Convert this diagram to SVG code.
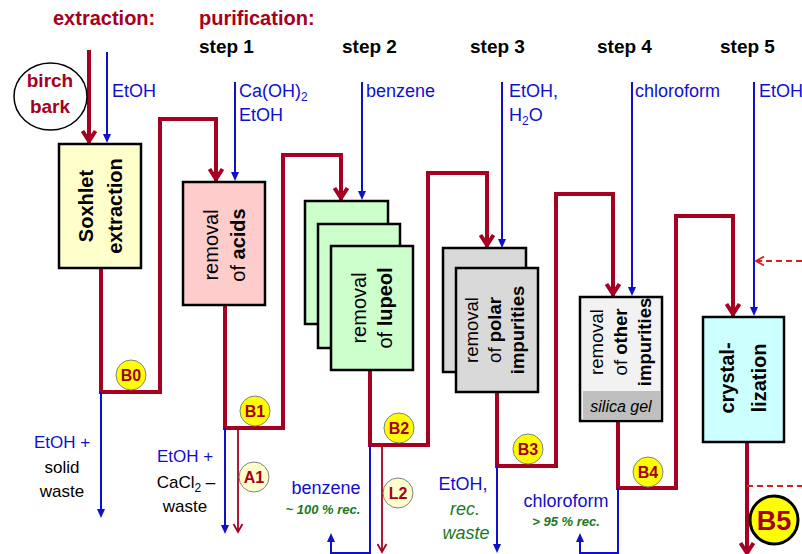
<svg xmlns="http://www.w3.org/2000/svg" width="802" height="554" viewBox="0 0 802 554">
<defs>
<style>
text{font-family:"Liberation Sans",Arial,sans-serif}
.hd{font-size:20px;font-weight:bold;fill:#a50021}
.st{font-size:19px;font-weight:bold;fill:#000}
.rg{font-size:18px;fill:#1010cc}
.lb{font-size:17px;fill:#1010cc}
.bk{font-size:17px;fill:#000}
.gi{font-size:18px;fill:#207820;font-style:italic}
.gb{font-size:13px;fill:#207820;font-style:italic;font-weight:bold}
.bt{font-size:20px;fill:#000}
.bs{font-size:18.5px;fill:#000}
.b{font-weight:bold}
.box{stroke:#000;stroke-width:2.5}
.red{fill:none;stroke:#a50021;stroke-width:4;stroke-linejoin:miter}
.blue{fill:none;stroke:#1010cc;stroke-width:2}
.tred{fill:none;stroke:#a50021;stroke-width:1.8}
.dash{fill:none;stroke:#d42020;stroke-width:1.8;stroke-dasharray:6 4}
.bdg{fill:#ffff00;stroke:#808080;stroke-width:1}
.bdl{fill:#ffffcc;stroke:#808080;stroke-width:1}
.bdt{font-size:16px;font-weight:bold;fill:#a50021;text-anchor:middle}
</style>
<marker id="ah" markerUnits="userSpaceOnUse" markerWidth="24" markerHeight="24" refX="17" refY="12" orient="auto" overflow="visible"><path d="M4,5.5 L14,12 L4,18.5" fill="none" stroke="#a50021" stroke-width="4"/></marker>
<marker id="bh" markerUnits="userSpaceOnUse" markerWidth="10" markerHeight="10" refX="6" refY="4" orient="auto" overflow="visible"><path d="M0,0 L9,4 L0,8 z" fill="#1010cc"/></marker>
<marker id="th" markerUnits="userSpaceOnUse" markerWidth="12" markerHeight="12" refX="9" refY="5" orient="auto" overflow="visible"><path d="M1,0.5 L9,5 L1,9.5" fill="none" stroke="#a50021" stroke-width="1.8"/></marker>
<marker id="dh" markerUnits="userSpaceOnUse" markerWidth="12" markerHeight="12" refX="9" refY="5" orient="auto" overflow="visible"><path d="M1,0.5 L9,5 L1,9.5" fill="none" stroke="#d42020" stroke-width="1.8"/></marker>
</defs>
<rect width="802" height="554" fill="#fff"/>

<g id="headers">
<text class="hd" x="53" y="25">extraction:</text>
<text class="hd" x="199" y="25">purification:</text>
<text class="st" x="199" y="53">step 1</text>
<text class="st" x="342" y="53">step 2</text>
<text class="st" x="470" y="53">step 3</text>
<text class="st" x="597" y="53">step 4</text>
<text class="st" x="720" y="53">step 5</text>
</g>

<g id="connectors">
<path class="red" d="M89,50 V144" marker-end="url(#ah)"/>
<path class="blue" d="M107,52 V140" marker-end="url(#bh)"/>
<path class="blue" d="M235,82 V178" marker-end="url(#bh)"/>
<path class="blue" d="M362,82 V197" marker-end="url(#bh)"/>
<path class="blue" d="M502,82 V245" marker-end="url(#bh)"/>
<path class="blue" d="M632,82 V293" marker-end="url(#bh)"/>
<path class="blue" d="M754,82 V313" marker-end="url(#bh)"/>
<path class="dash" d="M802,261 H756" marker-end="url(#dh)"/>

<path class="red" d="M101,268 V392 H160 V119 H216 V182" marker-end="url(#ah)"/>
<path class="blue" d="M101,392 V515" marker-end="url(#bh)"/>

<path class="red" d="M225,305 V428 H283 V155 H341 V201" marker-end="url(#ah)"/>
<path class="blue" d="M225,428 V531" marker-end="url(#bh)"/>
<path class="tred" d="M238,428 V532" marker-end="url(#th)"/>

<path class="red" d="M370,370 V445 H428 V173 H487 V248" marker-end="url(#ah)"/>
<path class="blue" d="M370,445 V553 H331 V536" marker-end="url(#bh)"/>
<path class="tred" d="M382,445 V552" marker-end="url(#th)"/>

<path class="red" d="M497,392 V466 H556 V194 H613 V297" marker-end="url(#ah)"/>
<path class="blue" d="M497,466 V550" marker-end="url(#bh)"/>

<path class="red" d="M618,421 V488 H676 V216 H733 V317" marker-end="url(#ah)"/>
<path class="blue" d="M618,488 V553 H580 V536" marker-end="url(#bh)"/>

<path class="red" d="M747,442 V556" marker-end="url(#ah)"/>
<path class="dash" d="M747,486 H802"/>
</g>

<g id="birch-bark">
<ellipse cx="50.5" cy="96.5" rx="36.5" ry="33.5" fill="#fff" stroke="#000" stroke-width="1.5"/>
<text class="hd" x="50" y="87" text-anchor="middle" style="font-size:19px">birch</text>
<text class="hd" x="50" y="113" text-anchor="middle" style="font-size:19px">bark</text>
</g>

<g id="soxhlet">
<rect class="box" x="59" y="144" width="82" height="124" fill="#ffffcc"/>
<text class="bt b" transform="translate(100,206) rotate(-90)" text-anchor="middle"><tspan x="0" y="-7">Soxhlet</tspan><tspan x="0" y="22">extraction</tspan></text>
</g>

<g id="step1">
<rect class="box" x="183" y="182" width="82" height="123" fill="#ffcccc"/>
<text class="bt" transform="translate(224,245) rotate(-90)" text-anchor="middle"><tspan x="0" y="-6">removal</tspan><tspan x="0" y="21">of <tspan class="b">acids</tspan></tspan></text>
</g>

<g id="step2">
<rect class="box" x="305" y="201" width="83" height="123" fill="#ccffcc"/>
<rect class="box" x="318" y="224" width="82" height="124" fill="#ccffcc"/>
<rect class="box" x="331" y="246" width="82" height="124" fill="#ccffcc"/>
<text class="bt" transform="translate(372,308) rotate(-90)" text-anchor="middle"><tspan x="0" y="-6">removal</tspan><tspan x="0" y="20">of <tspan class="b">lupeol</tspan></tspan></text>
</g>

<g id="step3">
<rect class="box" x="443" y="248" width="83" height="124" fill="#d9d9d9"/>
<rect class="box" x="456" y="268" width="82" height="124" fill="#d9d9d9"/>
<text class="bs" transform="translate(497,330) rotate(-90)" text-anchor="middle"><tspan x="0" y="-19">removal</tspan><tspan x="0" y="4">of <tspan class="b">polar</tspan></tspan><tspan x="0" y="27" class="b">impurities</tspan></text>
</g>

<g id="step4">
<rect class="box" x="580" y="297" width="82" height="124" fill="#f2f2f2"/>
<rect x="583" y="391" width="77" height="28" fill="#bfbfbf"/>
<text class="bs" transform="translate(621,342) rotate(-90)" text-anchor="middle"><tspan x="0" y="-18">removal</tspan><tspan x="0" y="6">of <tspan class="b">other</tspan></tspan><tspan x="0" y="30" class="b">impurities</tspan></text>
<text x="621" y="412" text-anchor="middle" style="font-size:16px;font-style:italic;fill:#000">silica gel</text>
</g>

<g id="step5">
<rect class="box" x="703" y="317" width="81" height="125" fill="#ccffff"/>
<text class="bt b" transform="translate(743,378) rotate(-90)" text-anchor="middle"><tspan x="0" y="-9">crystal-</tspan><tspan x="0" y="23">lization</tspan></text>
</g>

<g id="labels">
<text class="rg" x="112" y="97">EtOH</text>
<text class="rg" x="239" y="97">Ca(OH)<tspan dy="4" style="font-size:12px">2</tspan></text>
<text class="rg" x="239" y="121">EtOH</text>
<text class="rg" x="366" y="97">benzene</text>
<text class="rg" x="509" y="97">EtOH,</text>
<text class="rg" x="509" y="121">H<tspan dy="4" style="font-size:12px">2</tspan><tspan dy="-4">O</tspan></text>
<text class="rg" x="635" y="97">chloroform</text>
<text class="rg" x="759" y="97">EtOH</text>

<text class="lb" x="62" y="448" text-anchor="middle">EtOH +</text>
<text class="bk" x="62" y="473" text-anchor="middle">solid</text>
<text class="bk" x="62" y="497" text-anchor="middle">waste</text>

<text class="lb" x="185" y="462" text-anchor="middle">EtOH +</text>
<text class="bk" x="186" y="488" text-anchor="middle">CaCl<tspan dy="4" style="font-size:12px">2</tspan><tspan dy="-4"> –</tspan></text>
<text class="bk" x="185" y="512" text-anchor="middle">waste</text>

<text class="rg" x="326" y="494" text-anchor="middle">benzene</text>
<text class="gb" x="323" y="514" text-anchor="middle">~ 100 % rec.</text>

<text class="rg" x="463" y="490" text-anchor="middle">EtOH,</text>
<text class="gi" x="465" y="515" text-anchor="middle">rec.</text>
<text class="gi" x="466" y="539" text-anchor="middle">waste</text>

<text class="rg" x="566" y="507" text-anchor="middle">chloroform</text>
<text class="gb" x="566" y="526" text-anchor="middle">&gt; 95 % rec.</text>
</g>

<g id="badge-B0"><circle class="bdg" cx="131" cy="375" r="15"/><text class="bdt" x="131" y="381">B0</text></g>
<g id="badge-B1"><circle class="bdg" cx="255" cy="411" r="15"/><text class="bdt" x="255" y="417">B1</text></g>
<g id="badge-A1"><circle class="bdl" cx="254" cy="477" r="15"/><text class="bdt" x="254" y="483">A1</text></g>
<g id="badge-B2"><circle class="bdg" cx="399" cy="428" r="15"/><text class="bdt" x="399" y="434">B2</text></g>
<g id="badge-L2"><circle class="bdl" cx="398" cy="493" r="15"/><text class="bdt" x="398" y="499">L2</text></g>
<g id="badge-B3"><circle class="bdg" cx="528" cy="449" r="15"/><text class="bdt" x="528" y="455">B3</text></g>
<g id="badge-B4"><circle class="bdg" cx="648" cy="472" r="15"/><text class="bdt" x="648" y="478">B4</text></g>
<g id="badge-B5"><circle cx="774" cy="520" r="24" fill="#ffff00" stroke="#000" stroke-width="3"/><text class="bdt" x="774" y="530" style="font-size:27px">B5</text></g>
</svg>
